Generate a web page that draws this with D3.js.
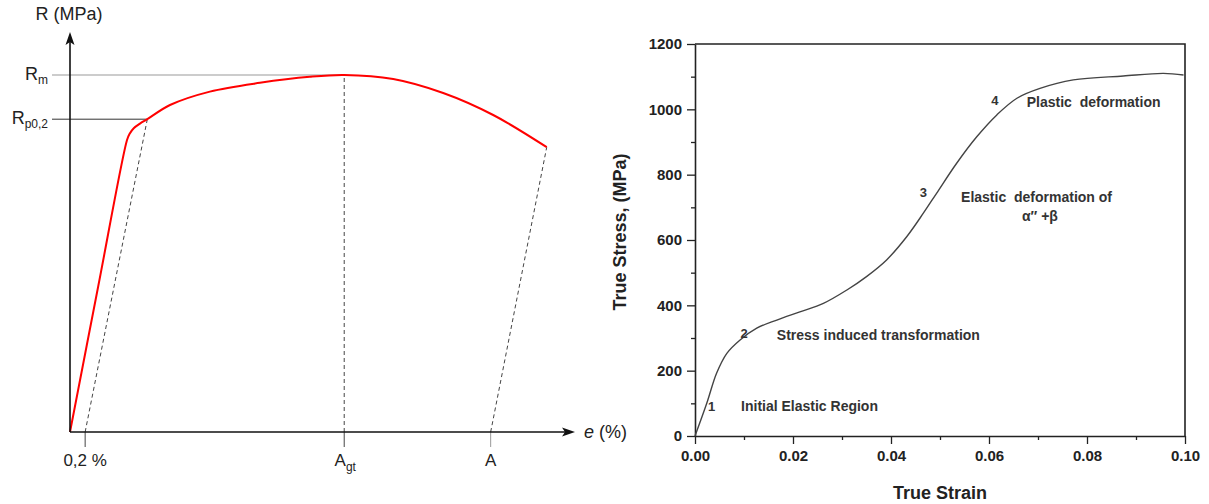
<!DOCTYPE html>
<html lang="en">
<head>
<meta charset="utf-8">
<title>stress strain curves</title>
<script src="https://cdn.jsdelivr.net/npm/d3@7"></script>
<style>
	body { margin: 0; background: #fff; }
	svg text { font-family: "Liberation Sans", Arial, sans-serif; }
</style>
</head>
<body>
<script>

// ---- left chart: schematic R-e curve (arbitrary units 0..100) ----
var schemStrain = [0, 5.6, 11.29, 11.78, 12.67, 13.86, 15.31, 19.8, 27.7, 37.6, 47.5, 54.3, 64, 73.9, 83.8, 94.4];
var schemStress = [0, 36.5, 73, 74.5, 76, 77.1, 78.2, 81.75, 85.1, 87.3, 88.8, 89.25, 88.25, 84.75, 79.25, 71.2];
var rmValue = 89.25;
var rpValue = 78.2;
var rpStrain = 15.31;
var offsetStrain = 3;
var agtStrain = 54.3;
var aStrain = 83.3;
var endStrain = 94.4, endStress = 71.2;
var schemTicks = [offsetStrain, agtStrain, aStrain];
var schemTickMain = ["0,2 %", "A", "A"];
var schemTickSub = ["", "gt", ""];

// ---- right chart: true stress vs true strain ----
var trueStrain = [0, 0.0024, 0.0044, 0.0065, 0.0092, 0.0126, 0.0167, 0.0214, 0.0262, 0.031, 0.035, 0.0391,
	0.0432, 0.0466, 0.0493, 0.0534, 0.0575, 0.0616, 0.0657, 0.0704, 0.0772, 0.0874, 0.0956, 0.0997];
var trueStress = [0, 100, 192, 253, 294, 330, 355, 380, 406, 447, 488, 539,
	610, 682, 743, 835, 916, 983, 1034, 1064, 1090, 1102, 1110, 1105];
var stressTicks = [0, 200, 400, 600, 800, 1000, 1200];
var stressMinor = [100, 300, 500, 700, 900, 1100];
var strainTicks = [0, 0.02, 0.04, 0.06, 0.08, 0.10];
var strainMinor = [0.01, 0.03, 0.05, 0.07, 0.09];

var stageNums = ["1", "2", "3", "4"];
var stageNumX = [0.0034, 0.0100, 0.0466, 0.0612];
var stageNumY = [90, 315, 745, 1026];
var stageText = ["Initial Elastic Region", "Stress induced transformation", "Elastic  deformation of", "\u03b1\u2033 +\u03b2", "Plastic  deformation"];
var stageTextX = [0.0094, 0.0167, 0.0697, 0.0704, 0.0677];
var stageTextY = [93, 309, 732, 673, 1022];
var stageAnchor = ["start", "start", "middle", "middle", "start"];

var w = 1209, h = 504;

var svg = d3.select("body").append("svg")
	.attr("width", w)
	.attr("height", h);

// ================= left =================
var lx = d3.scaleLinear().domain([0, 100]).range([70, 575]);
var ly = d3.scaleLinear().domain([0, 100]).range([432, 32]);

var left = svg.append("g");

// guide lines for Rm, Rp
left.append("line")
	.attr("x1", 52).attr("x2", lx(agtStrain))
	.attr("y1", ly(rmValue)).attr("y2", ly(rmValue))
	.attr("stroke", "#999").attr("stroke-width", 1.2);
left.append("line")
	.attr("x1", 52).attr("x2", lx(rpStrain))
	.attr("y1", ly(rpValue)).attr("y2", ly(rpValue))
	.attr("stroke", "#333").attr("stroke-width", 1);

// dashed construction lines
var dashes = [
	[offsetStrain, 0, rpStrain, rpValue],
	[agtStrain, 0, agtStrain, rmValue],
	[aStrain, 0, endStrain, endStress]
];
left.selectAll("line.dash")
	.data(dashes)
	.enter()
	.append("line")
	.attr("class", "dash")
	.attr("x1", function(d) { return lx(d[0]); })
	.attr("y1", function(d) { return ly(d[1]); })
	.attr("x2", function(d) { return lx(d[2]); })
	.attr("y2", function(d) { return ly(d[3]); })
	.attr("stroke", "#444")
	.attr("stroke-width", 1)
	.attr("stroke-dasharray", "4,3");

// ticks under x axis
left.selectAll("line.tk")
	.data(schemTicks)
	.enter()
	.append("line")
	.attr("class", "tk")
	.attr("x1", function(d) { return lx(d); })
	.attr("x2", function(d) { return lx(d); })
	.attr("y1", ly(0)).attr("y2", ly(0) + 15)
	.attr("stroke", function(d, i) { return i == 2 ? "#999" : "#444"; })
	.attr("stroke-width", 1);

var tl = left.selectAll("text.tl")
	.data(schemTicks)
	.enter()
	.append("text")
	.attr("class", "tl")
	.attr("x", function(d, i) { return lx(d) + (schemTickSub[i] ? 1 : 0); })
	.attr("y", 466)
	.attr("text-anchor", "middle")
	.attr("font-size", 17)
	.attr("fill", "#222");
tl.append("tspan").text(function(d, i) { return schemTickMain[i]; });
tl.append("tspan")
	.attr("font-size", 12)
	.attr("dy", 5)
	.text(function(d, i) { return schemTickSub[i]; });

// red curve
var schemPts = schemStrain.map(function(d, i) { return [d, schemStress[i]]; });
left.append("path")
	.datum(schemPts)
	.attr("fill", "none")
	.attr("stroke", "#ff0000")
	.attr("stroke-width", 2)
	.attr("d", d3.line()
		.x(function(d) { return lx(d[0]); })
		.y(function(d) { return ly(d[1]); })
		.curve(d3.curveCatmullRom.alpha(0.5)));

// axes with arrows
left.append("line")
	.attr("x1", lx(0)).attr("x2", lx(0))
	.attr("y1", ly(0)).attr("y2", ly(100) + 8)
	.attr("stroke", "#111").attr("stroke-width", 1.6);
left.append("line")
	.attr("x1", lx(0)).attr("x2", lx(100) - 8)
	.attr("y1", ly(0)).attr("y2", ly(0))
	.attr("stroke", "#111").attr("stroke-width", 1.6);
left.append("path")
	.attr("d", "M" + lx(0) + "," + ly(100) + "l-4.5,13l4.5,-3l4.5,3z")
	.attr("fill", "#111");
left.append("path")
	.attr("d", "M" + lx(100) + "," + ly(0) + "l-13,-4.5l3,4.5l-3,4.5z")
	.attr("fill", "#111");

// axis titles
left.append("text")
	.attr("x", 69).attr("y", 20)
	.attr("text-anchor", "middle")
	.attr("font-size", 18)
	.attr("fill", "#222")
	.text("R (MPa)");
var et = left.append("text")
	.attr("x", 584).attr("y", 438)
	.attr("font-size", 18)
	.attr("fill", "#222");
et.append("tspan").attr("font-style", "italic").text("e");
et.append("tspan").text(" (%)");

var rm = left.append("text")
	.attr("x", 48).attr("y", ly(rmValue) + 5)
	.attr("text-anchor", "end")
	.attr("font-size", 18)
	.attr("fill", "#222");
rm.append("tspan").text("R");
rm.append("tspan").attr("font-size", 12).attr("dy", 4).text("m");

var rp = left.append("text")
	.attr("x", 48).attr("y", ly(rpValue) + 5)
	.attr("text-anchor", "end")
	.attr("font-size", 18)
	.attr("fill", "#222");
rp.append("tspan").text("R");
rp.append("tspan").attr("font-size", 12).attr("dy", 4).text("p0,2");

// ================= right =================
var rx = d3.scaleLinear().domain([0, 0.10]).range([695, 1185]);
var ry = d3.scaleLinear().domain([0, 1200]).range([436, 44]);

var right = svg.append("g");

// minor ticks
right.append("g")
	.attr("transform", "translate(0," + ry(0) + ")")
	.call(d3.axisBottom(rx).tickValues(strainMinor).tickSize(4).tickFormat(""))
	.call(function(g) { g.select(".domain").remove(); });
right.append("g")
	.attr("transform", "translate(" + rx(0) + ",0)")
	.call(d3.axisLeft(ry).tickValues(stressMinor).tickSize(4).tickFormat(""))
	.call(function(g) { g.select(".domain").remove(); });

var xAxis = right.append("g")
	.attr("transform", "translate(0," + ry(0) + ")")
	.call(d3.axisBottom(rx).tickValues(strainTicks).tickSize(8).tickSizeOuter(0).tickPadding(6).tickFormat(d3.format(".2f")));
var yAxis = right.append("g")
	.attr("transform", "translate(" + rx(0) + ",0)")
	.call(d3.axisLeft(ry).tickValues(stressTicks).tickSize(8).tickSizeOuter(0).tickPadding(5).tickFormat(d3.format("d")));

right.selectAll(".tick line").attr("stroke", "#222").attr("stroke-width", 1.3);
right.selectAll(".domain").attr("stroke", "#222").attr("stroke-width", 1.6);
right.selectAll(".tick text")
	.attr("font-size", 15)
	.attr("font-weight", "bold")
	.attr("font-family", "'Liberation Sans', Arial, sans-serif")
	.attr("fill", "#222");

// frame top and right
right.append("path")
	.attr("d", "M" + rx(0) + "," + ry(1200) + "H" + rx(0.10) + "V" + ry(0))
	.attr("fill", "none")
	.attr("stroke", "#222")
	.attr("stroke-width", 1.6);

// curve
var truePts = trueStrain.map(function(d, i) { return [d, trueStress[i]]; });
right.append("path")
	.datum(truePts)
	.attr("fill", "none")
	.attr("stroke", "#444")
	.attr("stroke-width", 1.4)
	.attr("d", d3.line()
		.x(function(d) { return rx(d[0]); })
		.y(function(d) { return ry(d[1]); })
		.curve(d3.curveCatmullRom.alpha(0.5)));

// stage numbers and notes
right.selectAll("text.num")
	.data(stageNums)
	.enter()
	.append("text")
	.attr("class", "num")
	.attr("x", function(d, i) { return rx(stageNumX[i]); })
	.attr("y", function(d, i) { return ry(stageNumY[i]); })
	.attr("dy", "0.35em")
	.attr("text-anchor", "middle")
	.attr("font-size", 13)
	.attr("font-weight", "bold")
	.attr("fill", "#333")
	.text(function(d) { return d; });

right.selectAll("text.note")
	.data(stageText)
	.enter()
	.append("text")
	.attr("class", "note")
	.attr("x", function(d, i) { return rx(stageTextX[i]); })
	.attr("y", function(d, i) { return ry(stageTextY[i]); })
	.attr("dy", "0.35em")
	.attr("text-anchor", function(d, i) { return stageAnchor[i]; })
	.attr("font-size", 14)
	.attr("font-weight", "bold")
	.attr("fill", "#333")
	.style("white-space", "pre")
	.text(function(d) { return d; });

// axis titles
right.append("text")
	.attr("x", 940).attr("y", 499)
	.attr("text-anchor", "middle")
	.attr("font-size", 18)
	.attr("font-weight", "bold")
	.attr("fill", "#222")
	.text("True Strain");
right.append("text")
	.attr("transform", "translate(626,232) rotate(-90)")
	.attr("text-anchor", "middle")
	.attr("font-size", 18)
	.attr("font-weight", "bold")
	.attr("fill", "#222")
	.text("True Stress, (MPa)");

</script>
</body>
</html>
